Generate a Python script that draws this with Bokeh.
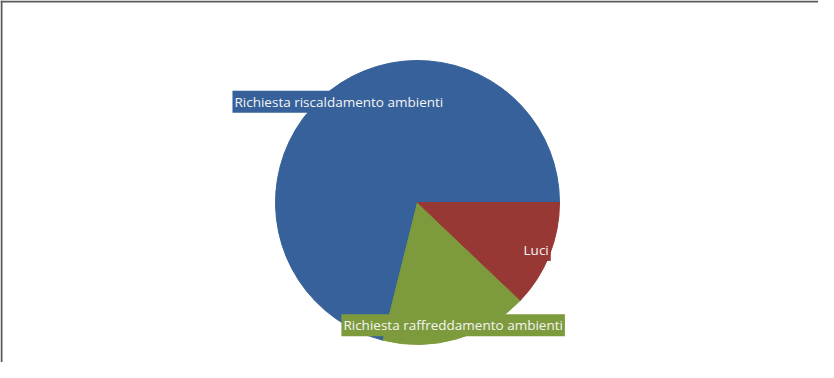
import math
from bokeh.plotting import figure
from bokeh.models import ColumnDataSource, Range1d
from bokeh.core.properties import value
from bokeh.embed import file_html
from bokeh.resources import INLINE

# Data
categories = ["Richiesta riscaldamento ambienti", "Richiesta raffreddamento ambienti", "Luci"]
values = [71.1, 16.8, 12.1]
colors = ["#36619a", "#7d9b3c", "#973835"]

W, H = 818, 362
p = figure(width=W, height=H, output_backend="svg", toolbar_location=None,
           x_range=Range1d(0, W), y_range=Range1d(0, H), min_border=0,
           background_fill_color="white", border_fill_color="white")
p.axis.visible = False
p.xgrid.visible = False
p.ygrid.visible = False
p.outline_line_color = None

cx, cy, R = 417, 160, 142
total = sum(values)
starts, ends, mids = [], [], []
acc = 0.0
for v in values:
    a0 = acc / total * 2 * math.pi
    acc += v
    a1 = acc / total * 2 * math.pi
    starts.append(a0)
    ends.append(a1)
    mids.append((a0 + a1) / 2)

lab_r = 0.9 * R
src = ColumnDataSource(dict(
    cat=categories, val=values, color=colors,
    start=starts, end=ends,
    lx=[cx + lab_r * math.cos(m) for m in mids],
    ly=[cy + lab_r * math.sin(m) for m in mids],
))

p.wedge(x=cx, y=cy, radius=R, start_angle="start", end_angle="end",
        direction="anticlock", fill_color="color", line_color="color",
        line_width=1, source=src)

p.text(x="lx", y="ly", text="cat", source=src, text_align="center",
       text_baseline="middle", text_color="#f4f4f4", text_font=value("Open Sans"),
       text_font_size="13.5px", background_fill_color="color",
       padding=2)

# frame border (top and left visible in reference)
p.segment(x0=[0, 1], y0=[H - 1, 0], x1=[W, 1], y1=[H - 1, H],
          line_color="#5a5a5a", line_width=2)

open("out.html", "w").write(file_html(p, INLINE))
